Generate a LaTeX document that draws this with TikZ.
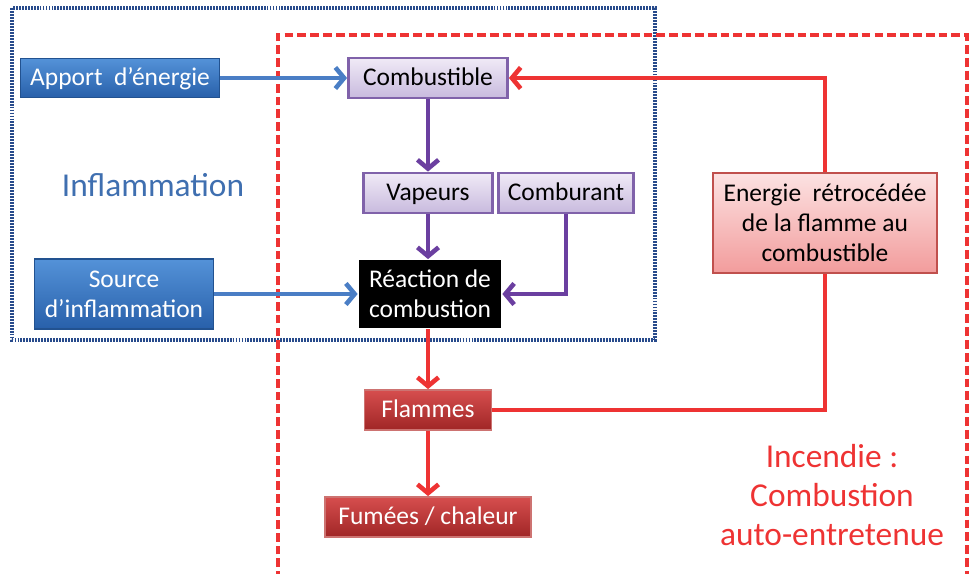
\documentclass[tikz,border=0pt]{standalone}
\usepackage{fontspec}
\setmainfont{Carlito}
\usetikzlibrary{arrows.meta}
\definecolor{blueTop}{RGB}{84,146,216}
\definecolor{blueBot}{RGB}{40,96,170}
\definecolor{lilacTop}{RGB}{240,234,246}
\definecolor{lilacBot}{RGB}{200,186,222}
\definecolor{lilacLine}{RGB}{128,98,170}
\definecolor{redTop}{RGB}{214,78,78}
\definecolor{redBot}{RGB}{160,38,38}
\definecolor{pinkTop}{RGB}{252,226,226}
\definecolor{pinkBot}{RGB}{242,156,156}
\definecolor{redLine}{RGB}{192,80,77}
\definecolor{arrowBlue}{RGB}{74,126,197}
\definecolor{arrowPurple}{RGB}{107,63,160}
\definecolor{arrowRed}{RGB}{238,51,51}
\definecolor{frameBlue}{RGB}{40,75,140}
\definecolor{titleBlue}{RGB}{63,111,176}

\begin{document}
\begin{tikzpicture}[x=0.02cm,y=-0.02cm,thick,
  box/.style={rectangle,inner sep=1pt,align=center,line width=1pt,font=\fontsize{14.5}{17}\selectfont},
  oneline/.style={text height=2.2ex,text depth=.35ex},
  bluebox/.style={box,top color=blueTop,bottom color=blueBot,draw=blueBot!85!black,text=white},
  lilacbox/.style={box,oneline,top color=lilacTop,bottom color=lilacBot,draw=lilacLine,line width=1.6pt},
  redbox/.style={box,oneline,top color=redTop,bottom color=redBot,draw=redLine!80,text=white},
  pinkbox/.style={box,top color=pinkTop,bottom color=pinkBot,draw=redLine,line width=1.4pt},
  blackbox/.style={box,fill=black,text=white},
  flow/.style={line width=2.6pt,-{Straight Barb[length=5pt,width=12pt]}},
  blueflow/.style={flow,arrowBlue},
  purpleflow/.style={flow,arrowPurple},
  redflow/.style={flow,arrowRed},
  redlink/.style={line width=2.6pt,arrowRed}]
\useasboundingbox (0,0) rectangle (973,574);

\draw[frameBlue,line width=2pt,dash pattern=on 1.1pt off 0.6pt] (12,8) rectangle (655,340);
\draw[arrowRed,line width=2.3pt,dash pattern=on 5pt off 2.3pt] (278,580) -- (278,35) -- (967,35) -- (967,580);

\node[bluebox,oneline,minimum width=3.98cm,minimum height=0.78cm] (apport) at (120,78) {Apport~~d’énergie};
\node[bluebox,minimum width=3.58cm,minimum height=1.4cm] (source) at (124,294) {Source\\d’inflammation};
\node[lilacbox,minimum width=3.18cm,minimum height=0.8cm] (combustible) at (428,78) {Combustible};
\node[lilacbox,minimum width=2.58cm,minimum height=0.8cm] (vapeurs) at (428,193) {Vapeurs};
\node[lilacbox,minimum width=2.7cm,minimum height=0.8cm] (comburant) at (566,193) {Comburant};
\node[blackbox,minimum width=2.86cm,minimum height=1.36cm] (reaction) at (430,294) {Réaction de\\combustion};
\node[pinkbox,minimum width=4.48cm,minimum height=2cm] (energie) at (825,223) {Energie~~rétrocédée\\de la flamme au\\combustible};
\node[redbox,minimum width=2.54cm,minimum height=0.8cm] (flammes) at (428,410) {Flammes};
\node[redbox,minimum width=4.12cm,minimum height=0.8cm] (fumees) at (428,517) {Fumées / chaleur};

\node[titleBlue,font=\fontsize{19}{22}\selectfont] (inflammation) at (153,185) {Inflammation};
\node[arrowRed,align=center,font=\fontsize{19}{22}\selectfont] (incendie) at (832,495) {Incendie :\\Combustion\\auto-entretenue};

\draw[blueflow] (apport) -- (combustible);
\draw[blueflow] (source) -- (reaction);
\draw[purpleflow] (combustible) -- (vapeurs);
\draw[purpleflow] (vapeurs.south) -- (vapeurs.south |- reaction.north);
\draw[purpleflow] (comburant.south) |- (reaction.east);
\draw[redflow] (reaction.south -| flammes.north) -- (flammes);
\draw[redflow] (flammes) -- (fumees);
\draw[redlink] (flammes.east) -| (energie.south);
\draw[redflow] (energie.north) |- (combustible.east);
\end{tikzpicture}
\end{document}
